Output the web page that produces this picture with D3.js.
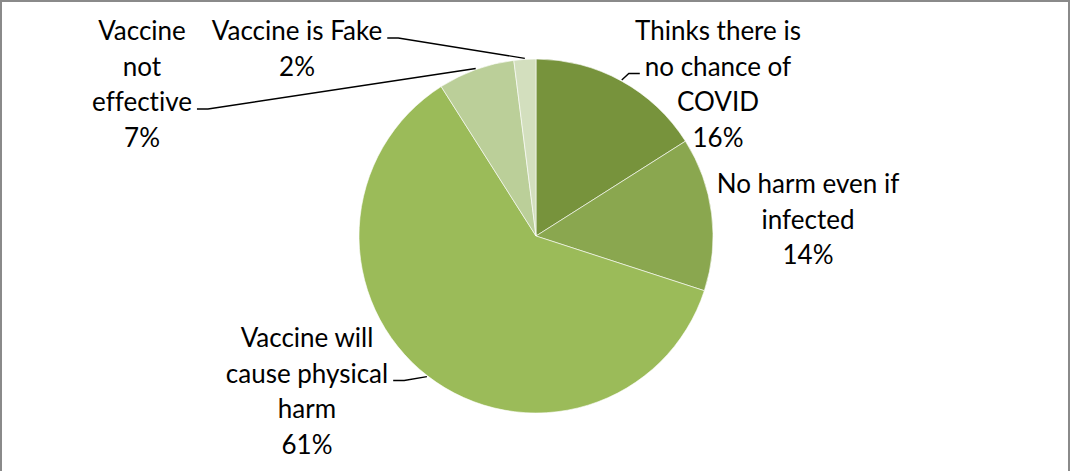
<!DOCTYPE html>
<html>
<head>
<meta charset="utf-8">
<script src="https://cdn.jsdelivr.net/npm/d3@7"></script>
<style>
  html, body { margin: 0; padding: 0; background: #fff; }
  svg { display: block; }
  .lbl { font-family: Lato, "Open Sans", sans-serif; font-size: 26px; fill: #000; font-variant-ligatures: none; font-feature-settings: "liga" 0, "clig" 0; }
</style>
</head>
<body>
<svg id="chart" width="1071" height="471"></svg>
<script>
// Reasons given for not taking the vaccine (share of respondents, %)
const categories = [
  "Thinks there is no chance of COVID",
  "No harm even if infected",
  "Vaccine will cause physical harm",
  "Vaccine not effective",
  "Vaccine is Fake"
];
const values = [16, 14, 61, 7, 2];
const labelLines = [
  ["Thinks there is", "no chance of", "COVID"],
  ["No harm even if", "infected"],
  ["Vaccine will", "cause physical", "harm"],
  ["Vaccine", "not", "effective"],
  ["Vaccine is Fake"]
];
const colors = ["#77933C", "#8AA74F", "#9BBB59", "#BBCF99", "#D3DFBE"];

// Label layout: anchor offset from the pie centre (centre x, first baseline)
// and which text line the leader attaches to (null = no leader).
const labelOffsets = [[182, -196], [272, -43], [-229, 111], [-394, -196], [-239, -196]];
const leaderLine = [1, null, 1, 2, 0];

const W = 1071, H = 471;
const cx = 536, cy = 236, R = 177;
const lineH = 35.5;

const svg = d3.select("#chart");

// outer frame
svg.append("rect")
  .attr("x", 1).attr("y", 1)
  .attr("width", 1068).attr("height", 490)
  .attr("fill", "none").attr("stroke", "#8a8a8a").attr("stroke-width", 2);

const pie = d3.pie().sort(null).value(d => d)(values);
const arc = d3.arc().innerRadius(0).outerRadius(R);

const g = svg.append("g").attr("transform", `translate(${cx},${cy})`);

g.selectAll("path.slice")
  .data(pie)
  .join("path")
  .attr("class", "slice")
  .attr("d", arc)
  .attr("fill", (d, i) => colors[i])
  .attr("stroke", "#fff")
  .attr("stroke-width", 0.6);

// labels
const labels = g.selectAll("text.lbl")
  .data(pie)
  .join("text")
  .attr("class", "lbl")
  .attr("text-anchor", "middle");

labels.each(function(d, i) {
  const t = d3.select(this);
  const [ox, oy] = labelOffsets[i];
  const lines = labelLines[i].concat([values[i] + "%"]);
  lines.forEach((s, k) => {
    t.append("tspan")
      .attr("x", ox)
      .attr("y", oy + k * lineH)
      .text(s);
  });
});

// leader lines: short horizontal tick beside the label, then to the slice edge
labels.each(function(d, i) {
  const li = leaderLine[i];
  if (li === null) return;
  const [ox, oy] = labelOffsets[i];
  const tspan = d3.select(this).selectAll("tspan").nodes()[li];
  const w = tspan.getComputedTextLength();
  const mid = (d.startAngle + d.endAngle) / 2;
  const px = Math.sin(mid) * (R + 1);
  const py = -Math.cos(mid) * (R + 1);
  const dir = px > ox ? 1 : -1;
  const y = oy + li * lineH - 2;
  const x0 = ox + dir * (w / 2 + 5);
  const x1 = x0 + dir * 11;
  g.append("path")
    .attr("d", d3.line()([[x0, y], [x1, y], [px, py]]))
    .attr("fill", "none")
    .attr("stroke", "#000")
    .attr("stroke-width", 1.4);
});
</script>
</body>
</html>
